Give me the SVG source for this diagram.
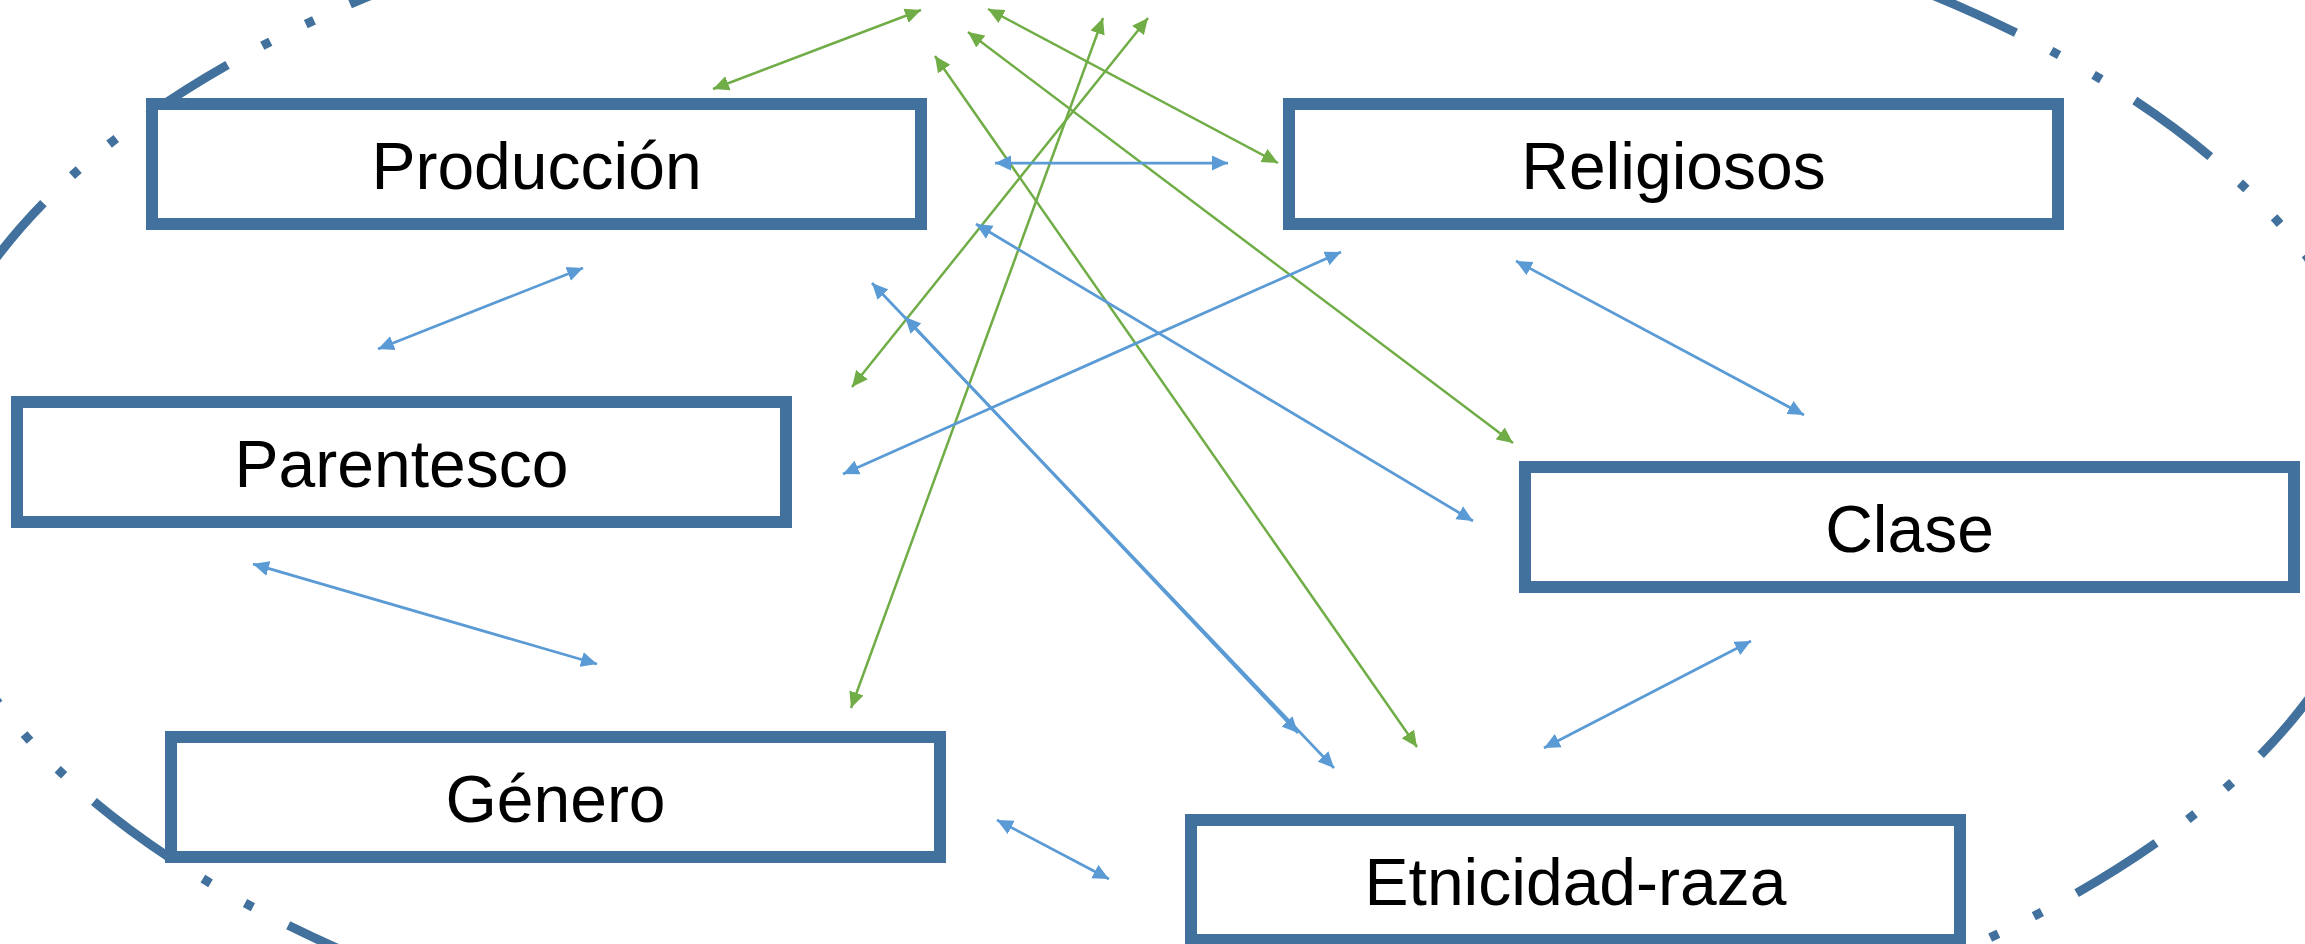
<svg xmlns="http://www.w3.org/2000/svg" width="2305" height="944" viewBox="0 0 2305 944">
<style>
.frame{fill:none;stroke:#41719C;stroke-width:9;stroke-dasharray:94 39.62 9 39.62 9 39.62;stroke-dashoffset:13.07}
.box{fill:#FFFFFF;stroke:#41719C;stroke-width:12}
.lbl{font-family:"Liberation Sans",Arial,sans-serif;font-size:66px;fill:#000000;text-anchor:middle}
.b{stroke:#5B9BD5;stroke-width:2.75;fill:none;marker-start:url(#ab);marker-end:url(#ab)}
.g{stroke:#70AD47;stroke-width:2.5;fill:none;marker-start:url(#ag);marker-end:url(#ag)}
</style>
<defs>
<marker id="ab" viewBox="0 0 16 16" markerUnits="userSpaceOnUse" markerWidth="16" markerHeight="16" refX="16" refY="8" orient="auto-start-reverse"><path d="M0,0.5 L16,8 L0,15.5 z" fill="#5B9BD5"/></marker>
<marker id="ag" viewBox="0 0 16 16" markerUnits="userSpaceOnUse" markerWidth="16" markerHeight="16" refX="16" refY="8" orient="auto-start-reverse"><path d="M0,0.5 L16,8 L0,15.5 z" fill="#70AD47"/></marker>
</defs>
<rect width="2305" height="944" fill="#FFFFFF"/>
<g id="frame"><ellipse class="frame" cx="1152" cy="479" rx="1236" ry="624"/></g>
<g id="produccion"><rect class="box" x="152" y="104" width="769" height="120"/><text class="lbl" x="536.5" y="189">Producción</text></g>
<g id="religiosos"><rect class="box" x="1289" y="104" width="769" height="120"/><text class="lbl" x="1673.5" y="189">Religiosos</text></g>
<g id="parentesco"><rect class="box" x="17" y="402" width="769" height="120"/><text class="lbl" x="401.5" y="487">Parentesco</text></g>
<g id="genero"><rect class="box" x="171" y="737" width="769" height="120"/><text class="lbl" x="555.5" y="822">Género</text></g>
<g id="clase"><rect class="box" x="1525" y="467" width="769" height="120"/><text class="lbl" x="1909.5" y="552">Clase</text></g>
<g id="etnicidad"><rect class="box" x="1191" y="820" width="769" height="120"/><text class="lbl" x="1575.5" y="905">Etnicidad-raza</text></g>
<g id="connectors">
<line class="g" x1="713" y1="89" x2="921" y2="10"/>
<line class="g" x1="988" y1="9" x2="1278" y2="163"/>
<line class="g" x1="968" y1="32" x2="1513" y2="443"/>
<line class="g" x1="935" y1="56" x2="1417" y2="747"/>
<line class="g" x1="1103" y1="18" x2="851" y2="708"/>
<line class="g" x1="1148" y1="18" x2="852" y2="387"/>
<line class="b" x1="995" y1="163" x2="1228" y2="163"/>
<line class="b" x1="378" y1="349" x2="583" y2="268"/>
<line class="b" x1="1516" y1="261" x2="1804" y2="415"/>
<line class="b" x1="976" y1="224" x2="1473" y2="521"/>
<line class="b" x1="1341" y1="252" x2="843" y2="474"/>
<line class="b" x1="872" y1="283" x2="1334" y2="768"/>
<line class="b" x1="905" y1="317" x2="1298" y2="733"/>
<line class="b" x1="253" y1="564" x2="597" y2="664"/>
<line class="b" x1="997" y1="820" x2="1109" y2="879"/>
<line class="b" x1="1544" y1="748" x2="1751" y2="641"/>
</g>
</svg>
